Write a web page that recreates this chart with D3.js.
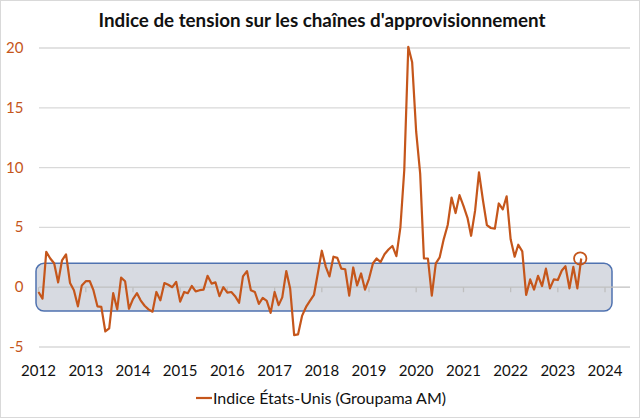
<!DOCTYPE html>
<html><head><meta charset="utf-8">
<script src="https://cdn.jsdelivr.net/npm/d3@7"></script>
<style>
html,body{margin:0;padding:0;background:#fff;}
svg{display:block;font-family:Lato,"Open Sans",sans-serif;}
</style></head>
<body>
<svg id="chart" width="640" height="418"></svg>
<script>
// ---- data (monthly values, Jan 2012 – Jul 2023) ----
const title = "Indice de tension sur les chaînes d'approvisionnement";
const seriesName = "Indice États-Unis (Groupama AM)";
const years = [2012,2013,2014,2015,2016,2017,2018,2019,2020,2021,2022,2023];
const v2012 = [-0.4, -0.95, 2.95, 2.4, 2.0, 0.4, 2.25, 2.75, 0.35, -0.25, -1.6, 0.15];
const v2013 = [0.5, 0.5, -0.25, -1.6, -1.65, -3.7, -3.45, -0.5, -1.85, 0.8, 0.5, -1.8];
const v2014 = [-1.0, -0.5, -1.1, -1.55, -1.85, -2.05, -0.4, -1.1, 0.35, 0.2, 0.0, 0.45];
const v2015 = [-1.2, -0.4, -0.5, 0.1, -0.35, -0.25, -0.2, 0.95, 0.3, 0.4, -0.75, 0.0];
const v2016 = [-0.45, -0.4, -0.75, -1.3, 0.9, 1.35, -0.25, -0.4, -1.4, -0.9, -1.15, -2.15];
const v2017 = [-0.4, -1.5, -0.85, 1.35, -0.1, -4.0, -3.95, -2.4, -1.65, -1.15, -0.65, 1.15];
const v2018 = [3.05, 1.7, 0.9, 2.55, 2.45, 1.55, 1.5, -0.7, 1.65, 0.15, 1.15, -0.2];
const v2019 = [0.7, 2.0, 2.4, 2.1, 2.75, 3.15, 3.45, 2.6, 5.0, 9.8, 20.1, 18.8];
const v2020 = [13.0, 9.5, 2.4, 2.4, -0.7, 2.0, 2.5, 4.0, 5.2, 7.5, 6.2, 7.7];
const v2021 = [6.8, 5.8, 4.3, 6.4, 9.6, 7.25, 5.2, 4.95, 4.9, 7.0, 6.5, 7.6];
const v2022 = [4.0, 2.55, 3.55, 3.0, -0.65, 0.65, -0.2, 0.95, 0.1, 1.55, -0.1, 0.65];
const v2023 = [0.6, 1.4, 1.75, -0.1, 1.7, -0.1, 2.4];
const xTickYears = [2012,2013,2014,2015,2016,2017,2018,2019,2020,2021,2022,2023,2024];
const yTicks = [-5, 0, 5, 10, 15, 20];
const bandRange = [-2, 2];   // highlighted "normal" zone

const valuesByYear = [v2012,v2013,v2014,v2015,v2016,v2017,v2018,v2019,v2020,v2021,v2022,v2023];
const data = [];
valuesByYear.forEach((arr, i) => arr.forEach((v, m) => data.push({date: new Date(years[i], m, 1), value: v})));

// ---- layout ----
const orange = "#c5561b";
const svg = d3.select("#chart");
const plotLeft = 39, plotRight = 630;

const x = d3.scaleTime()
  .domain([new Date(2012,0,1), new Date(2024,0,1)])
  .range([38.5, 605]);
const y = d3.scaleLinear().domain([-5, 20]).range([347, 48]);

// outer border
svg.append("rect").attr("x",0.5).attr("y",0.5).attr("width",639).attr("height",417)
  .attr("fill","#fff").attr("stroke","#d9d9d9");

// title
svg.append("text").attr("x",322).attr("y",26.5).attr("text-anchor","middle")
  .attr("font-size",18.8).attr("font-weight","bold").attr("fill","#111").text(title);

// gridlines
svg.append("g").selectAll("line").data(yTicks.filter(t => t !== 0)).join("line")
  .attr("x1",plotLeft).attr("x2",plotRight)
  .attr("y1",d=>y(d)).attr("y2",d=>y(d))
  .attr("stroke","#d9d9d9").attr("stroke-width",1.3);

// y labels
svg.append("g").selectAll("text").data(yTicks).join("text")
  .attr("x",23.5).attr("y",d=>y(d)+5).attr("text-anchor","end")
  .attr("font-size",15).attr("fill",orange).text(d=>d);

// band box
svg.append("rect")
  .attr("x", x(new Date(2012,0,1)) - 2.5)
  .attr("y", y(bandRange[1]))
  .attr("width", x(new Date(2024,0,1)) + 7 - (x(new Date(2012,0,1)) - 2.5))
  .attr("height", y(bandRange[0]) - y(bandRange[1]))
  .attr("rx", 8).attr("ry", 8)
  .attr("fill", "#d7dae1").attr("stroke", "#4f72b0").attr("stroke-width", 1.5);

// zero axis line + ticks
svg.append("line").attr("x1",plotLeft).attr("x2",plotRight)
  .attr("y1",y(0)).attr("y2",y(0)).attr("stroke","#bfbfbf").attr("stroke-width",1.3);
svg.append("g").selectAll("line").data(xTickYears).join("line")
  .attr("x1",d=>x(new Date(d,0,1))).attr("x2",d=>x(new Date(d,0,1)))
  .attr("y1",y(0)).attr("y2",y(0)+5).attr("stroke","#bfbfbf").attr("stroke-width",1.3);

// x labels (low position)
svg.append("g").selectAll("text").data(xTickYears).join("text")
  .attr("x",d=>x(new Date(d,0,1))).attr("y",376).attr("text-anchor","middle")
  .attr("font-size",15).attr("fill","#111").text(d=>d);

// series line
const line = d3.line().x(d=>x(d.date)).y(d=>y(d.value));
svg.append("path").datum(data).attr("d",line)
  .attr("fill","none").attr("stroke",orange).attr("stroke-width",2.2)
  .attr("stroke-linejoin","round");

// highlight circle on the last point
const last = data[data.length-1];
svg.append("circle").attr("cx",x(last.date)-1).attr("cy",y(last.value)).attr("r",6.2)
  .attr("fill","none").attr("stroke",orange).attr("stroke-width",1.8);

// legend
svg.append("line").attr("x1",196).attr("x2",212).attr("y1",398).attr("y2",398)
  .attr("stroke",orange).attr("stroke-width",2.2);
svg.append("text").attr("x",213).attr("y",403.5).attr("font-size",16).attr("fill","#111").text(seriesName);
</script>
</body></html>
